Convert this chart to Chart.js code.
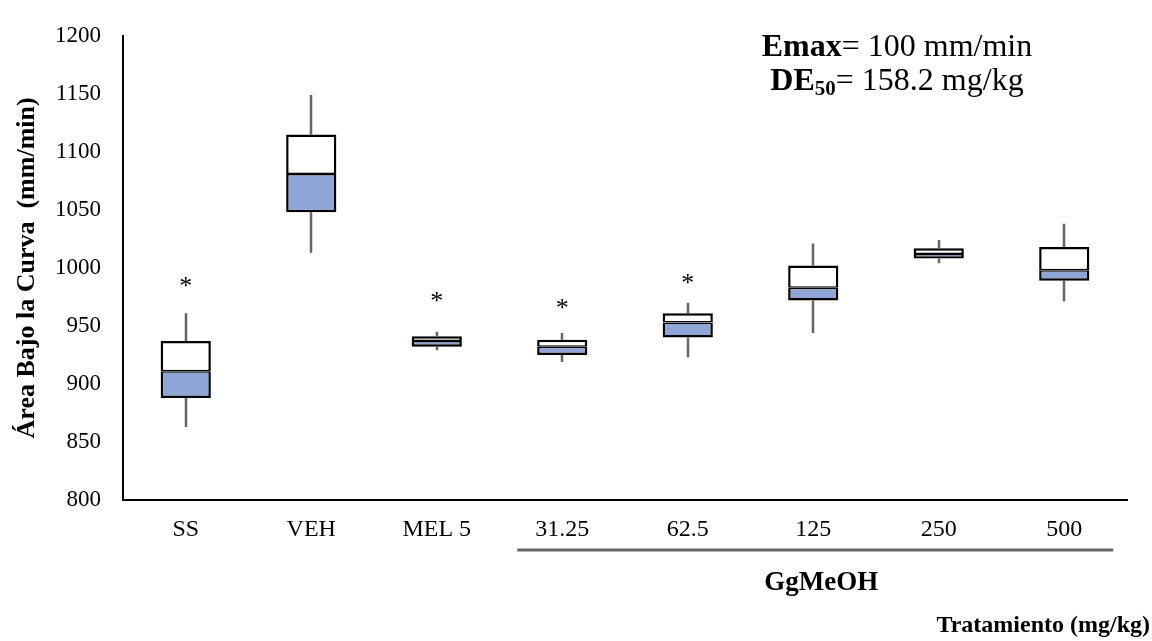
<!DOCTYPE html>
<html lang="es">
<head>
<meta charset="utf-8">
<title>Área Bajo la Curva por tratamiento</title>
<script src="https://cdn.jsdelivr.net/npm/chart.js@4.4.1/dist/chart.umd.min.js"></script>
<style>
  html, body { margin: 0; padding: 0; background: #fff; }
  #wrap { width: 1152px; height: 641px; }
</style>
</head>
<body>
<div id="wrap"><canvas id="boxChart" width="1152" height="641"></canvas></div>
<script>
// Box plot values (mm/min)
const categories = ["SS", "VEH", "MEL 5", "31.25", "62.5", "125", "250", "500"];
const whiskerMin = [863, 1013, 929, 919, 923, 944, 1004, 971];
const q1 = [888, 1048, 932, 925, 940, 972, 1008, 989];
const median = [911, 1081, 937, 932, 953, 983, 1012, 998];
const q3 = [937, 1115, 941, 938, 961, 1002, 1017, 1018];
const whiskerMax = [961, 1149, 945, 944, 970, 1021, 1024, 1038];
// where the significance asterisks sit (null = none)
const starValues = [983, null, 970, 964, 985, null, null, null];
const yTicks = [800, 850, 900, 950, 1000, 1050, 1100, 1150, 1200];

const FONT = "'Liberation Serif', 'Times New Roman', serif";
const BLUE = "#8EA5D6";

const boxExtras = {
    id: "boxExtras",
    beforeDatasetsDraw(chart) {
        const { ctx, scales: { x, y } } = chart;
        ctx.save();
        ctx.strokeStyle = "#666666";
        ctx.lineWidth = 2.5;
        categories.forEach((c, i) => {
            const px = Math.round(x.getPixelForValue(i));
            ctx.beginPath();
            ctx.moveTo(px, y.getPixelForValue(whiskerMax[i]));
            ctx.lineTo(px, y.getPixelForValue(q3[i]));
            ctx.moveTo(px, y.getPixelForValue(q1[i]));
            ctx.lineTo(px, y.getPixelForValue(whiskerMin[i]));
            ctx.stroke();
        });
        ctx.restore();
    },
    afterDraw(chart) {
        const { ctx, scales: { x, y } } = chart;
        ctx.save();

        // asterisks
        ctx.fillStyle = "#000";
        ctx.font = `26px ${FONT}`;
        ctx.textAlign = "center";
        ctx.textBaseline = "alphabetic";
        starValues.forEach((v, i) => {
            if (v === null) return;
            ctx.fillText("*", x.getPixelForValue(i), y.getPixelForValue(v) + 6);
        });

        // Emax / DE50 annotation
        const drawRuns = (runs, cx, cy) => {
            let total = 0;
            runs.forEach(r => { ctx.font = r.font; r.w = ctx.measureText(r.text).width; total += r.w; });
            let xPos = cx - total / 2;
            ctx.textAlign = "left";
            ctx.textBaseline = "middle";
            runs.forEach(r => {
                ctx.font = r.font;
                ctx.fillText(r.text, xPos, cy + (r.dy || 0));
                xPos += r.w;
            });
        };
        drawRuns([
            { text: "Emax", font: `bold 32px ${FONT}` },
            { text: "= 100 mm/min", font: `32px ${FONT}` }
        ], 897, 48);
        drawRuns([
            { text: "DE", font: `bold 32px ${FONT}` },
            { text: "50", font: `bold 21px ${FONT}`, dy: 8 },
            { text: "= 158.2 mg/kg", font: `32px ${FONT}` }
        ], 897, 82);

        // GgMeOH group bracket
        const lineStart = x.getPixelForValue(3) - 45;
        const lineEnd = x.getPixelForValue(7) + 49;
        ctx.strokeStyle = "#666666";
        ctx.lineWidth = 3;
        ctx.beginPath();
        ctx.moveTo(lineStart, 550);
        ctx.lineTo(lineEnd, 550);
        ctx.stroke();

        ctx.font = `bold 27px ${FONT}`;
        ctx.textAlign = "center";
        ctx.textBaseline = "middle";
        ctx.fillText("GgMeOH", (lineStart + lineEnd) / 2 + 6, 583);

        ctx.font = `bold 24px ${FONT}`;
        ctx.textAlign = "right";
        ctx.fillText("Tratamiento (mg/kg)", 1150, 626);
        ctx.restore();
    }
};

const boxStyle = {
    borderColor: "#000",
    borderSkipped: false,
    grouped: false,
    barPercentage: 0.4,
    categoryPercentage: 1
};

const ctx = document.getElementById("boxChart").getContext("2d");
new Chart(ctx, {
    type: "bar",
    data: {
        labels: categories,
        datasets: [
            {
                ...boxStyle,
                label: "Q1-Mediana",
                data: q1.map((v, i) => [v, median[i]]),
                backgroundColor: BLUE,
                borderWidth: { top: 1.5, right: 2.5, bottom: 2.5, left: 2.5 }
            },
            {
                ...boxStyle,
                label: "Mediana-Q3",
                data: median.map((v, i) => [v, q3[i]]),
                backgroundColor: "#fff",
                borderWidth: { top: 2.5, right: 2.5, bottom: 1.5, left: 2.5 }
            }
        ]
    },
    options: {
        responsive: false,
        animation: false,
        layout: { padding: { top: 25, right: 25, bottom: 0, left: 0 } },
        plugins: { legend: { display: false }, tooltip: { enabled: false } },
        scales: {
            x: {
                grid: { display: false, drawTicks: false },
                border: { display: true, color: "#000", width: 2 },
                ticks: { color: "#000", font: { family: FONT, size: 24 }, padding: 15 },
                afterFit(scale) { scale.height = 141; }
            },
            y: {
                min: yTicks[0],
                max: yTicks[yTicks.length - 1],
                afterBuildTicks(scale) { scale.ticks = yTicks.map(v => ({ value: v })); },
                grid: { display: false, drawTicks: false },
                border: { display: true, color: "#000", width: 2 },
                ticks: {
                    color: "#000",
                    font: { family: FONT, size: 23 },
                    padding: 22,
                    callback: v => String(v)
                },
                title: {
                    display: true,
                    text: "Área Bajo la Curva  (mm/min)",
                    color: "#000",
                    font: { family: FONT, size: 26, weight: "bold" },
                    padding: { top: 12, bottom: 0 }
                },
                afterFit(scale) { scale.width = 123; }
            }
        }
    },
    plugins: [boxExtras]
});
</script>
</body>
</html>
